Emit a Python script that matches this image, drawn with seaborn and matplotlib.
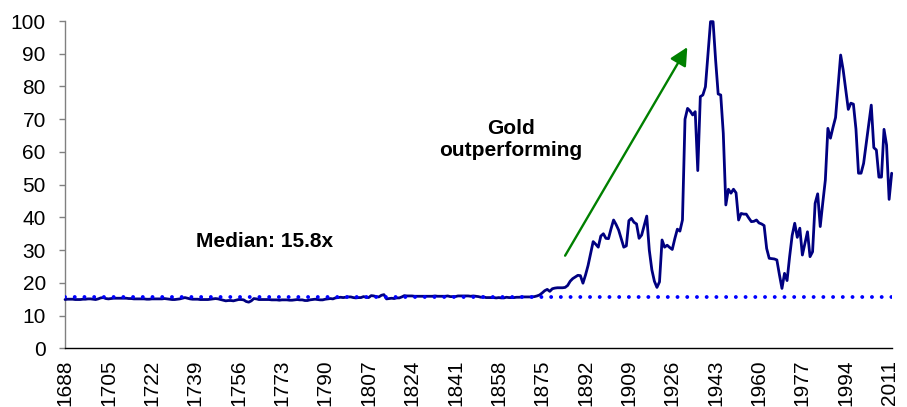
import matplotlib
matplotlib.use("Agg")
import matplotlib.pyplot as plt
import seaborn as sns
import pandas as pd

# Gold/silver price ratio, one value per year
FIRST_YEAR = 1688
LAST_YEAR = 2012
years = list(range(FIRST_YEAR, LAST_YEAR + 1))

ratio_1688_1700 = [14.9, 15.0, 15.0, 15.0, 14.9, 14.9, 14.9, 15.0, 15.0, 15.1, 15.1, 15.0, 14.9]
ratio_1701_1750 = [
    15.1, 15.4, 15.5, 15.2, 15.1, 15.2, 15.3, 15.3, 15.3, 15.3,
    15.3, 15.3, 15.2, 15.2, 15.1, 15.1, 15.1, 15.1, 15.1, 15.0,
    15.0, 15.1, 15.1, 15.1, 15.1, 15.1, 15.2, 15.1, 15.0, 14.9,
    14.9, 15.0, 15.1, 15.3, 15.5, 15.3, 15.1, 15.0, 15.0, 15.0,
    14.9, 14.9, 14.9, 14.9, 15.0, 15.1, 15.2, 15.1, 14.9, 14.7,
]
ratio_1751_1800 = [
    14.5, 14.6, 14.6, 14.5, 14.7, 14.9, 14.9, 14.8, 14.3, 14.1,
    14.5, 15.2, 15.1, 14.9, 14.9, 14.9, 14.9, 14.9, 14.8, 14.8,
    14.8, 14.7, 14.8, 14.8, 14.8, 14.7, 14.7, 14.8, 14.9, 14.8,
    14.8, 14.6, 14.6, 14.8, 14.9, 15.0, 14.9, 14.8, 14.8, 15.0,
    15.1, 15.2, 15.1, 15.4, 15.5, 15.6, 15.5, 15.6, 15.7, 15.7,
]
ratio_1801_1850 = [
    15.5, 15.4, 15.5, 15.5, 15.8, 15.6, 15.5, 16.1, 16.0, 15.8,
    15.7, 16.2, 16.4, 15.1, 15.2, 15.3, 15.2, 15.4, 15.4, 15.7,
    16.1, 16.0, 16.0, 16.0, 15.9, 15.9, 15.9, 15.9, 15.9, 15.9,
    15.9, 15.9, 16.0, 15.9, 15.9, 15.9, 15.9, 16.0, 15.8, 15.8,
    15.8, 16.0, 16.0, 16.0, 16.0, 16.0, 15.9, 16.0, 15.9, 15.8,
]
ratio_1851_1900 = [
    15.6, 15.7, 15.5, 15.5, 15.5, 15.5, 15.4, 15.5, 15.4, 15.4,
    15.6, 15.5, 15.5, 15.5, 15.6, 15.6, 15.7, 15.7, 15.7, 15.7,
    15.7, 15.8, 16.0, 16.3, 16.9, 17.6, 18.0, 17.4, 18.2, 18.4,
    18.5, 18.5, 18.5, 18.6, 19.2, 20.5, 21.3, 21.8, 22.3, 22.2,
    19.9, 22.4, 25.3, 29.0, 32.6, 31.8, 30.9, 34.3, 35.0, 33.6,
]
ratio_1901_1950 = [
    33.5, 36.5, 39.2, 37.8, 36.1, 33.5, 30.9, 31.3, 39.0, 39.7,
    38.5, 38.0, 33.6, 34.6, 37.5, 40.4, 30.0, 24.0, 20.5, 18.6,
    20.3, 33.1, 30.9, 31.5, 30.8, 30.2, 33.5, 36.4, 35.8, 39.2,
    70.0, 73.3, 72.5, 71.3, 72.3, 54.3, 76.9, 77.4, 79.9, 90.0,
    99.8, 99.8, 88.0, 77.7, 77.4, 65.7, 43.8, 48.6, 47.4, 48.6,
]
ratio_1951_2000 = [
    47.5, 39.2, 41.2, 41.0, 41.0, 39.8, 38.7, 38.8, 39.2, 38.3,
    38.0, 37.5, 30.5, 27.5, 27.4, 27.3, 27.0, 22.5, 18.3, 22.9,
    20.7, 28.0, 34.5, 38.2, 33.9, 36.7, 28.5, 32.0, 35.6, 28.0,
    29.5, 44.3, 47.2, 37.2, 44.5, 51.4, 67.2, 64.2, 67.5, 70.5,
    80.0, 89.6, 85.0, 79.0, 73.0, 74.9, 74.6, 67.0, 53.5, 53.5,
]
ratio_2001_2012 = [56.5, 62.5, 68.5, 74.3, 61.3, 60.6, 52.3, 52.3, 66.9, 62.1, 45.5, 53.5]

ratio = (ratio_1688_1700 + ratio_1701_1750 + ratio_1751_1800 + ratio_1801_1850
         + ratio_1851_1900 + ratio_1901_1950 + ratio_1951_2000 + ratio_2001_2012)

MEDIAN = 15.8
median_label = "Median: 15.8x"
trend_label = "Gold\noutperforming"
tick_years = years[::17]
y_ticks = list(range(0, 101, 10))

TICK_FONT = 15

sns.set_style("white")
plt.rcParams["font.family"] = ["Liberation Sans", "DejaVu Sans"]

df = pd.DataFrame({"year": years, "ratio": ratio})

fig = plt.figure(figsize=(9.07, 4.07), dpi=100)
ax = fig.add_axes([0.0717, 0.1442, 0.9114, 0.8042])

sns.lineplot(data=df, x="year", y="ratio", color="#000080", linewidth=2.0,
             ax=ax, clip_on=False, zorder=3)
ax.axhline(MEDIAN, color="#0000FF", linewidth=2.8, linestyle=(0, (0.01, 2.49)),
           dash_capstyle="round", zorder=4)

ax.set_xlim(FIRST_YEAR, LAST_YEAR)
ax.set_ylim(0, 100)
ax.set_yticks(y_ticks)
ax.set_yticklabels([str(v) for v in y_ticks], fontsize=TICK_FONT)
ax.set_xticks(tick_years)
ax.set_xticklabels([str(y) for y in tick_years], rotation=90, fontsize=TICK_FONT)
ax.set_xlabel("")
ax.set_ylabel("")
ax.grid(False)

ax.tick_params(axis="x", length=0, pad=8.3, colors="black")
ax.tick_params(axis="y", left=True, length=4.3, width=1, color="#808080",
               direction="out", pad=9.5, labelcolor="black")

for side in ("top", "right"):
    ax.spines[side].set_visible(False)
ax.spines["left"].set_color("#808080")
ax.spines["left"].set_linewidth(1.0)
ax.spines["bottom"].set_color("black")
ax.spines["bottom"].set_linewidth(1.0)

ax.text(1766.4, 32.5, median_label, ha="center", va="center",
        fontsize=15, fontweight="bold", color="black")
ax.text(1862.8, 63.8, trend_label, ha="center", va="center",
        fontsize=15, fontweight="bold", color="black", linespacing=1.2)
ax.annotate("", xy=(1931.9, 92.0), xytext=(1884.0, 28.3),
            arrowprops=dict(arrowstyle="-|>", color="#008000", lw=1.7,
                            mutation_scale=27, shrinkA=0, shrinkB=0))

fig.savefig("out.png", dpi=100)
